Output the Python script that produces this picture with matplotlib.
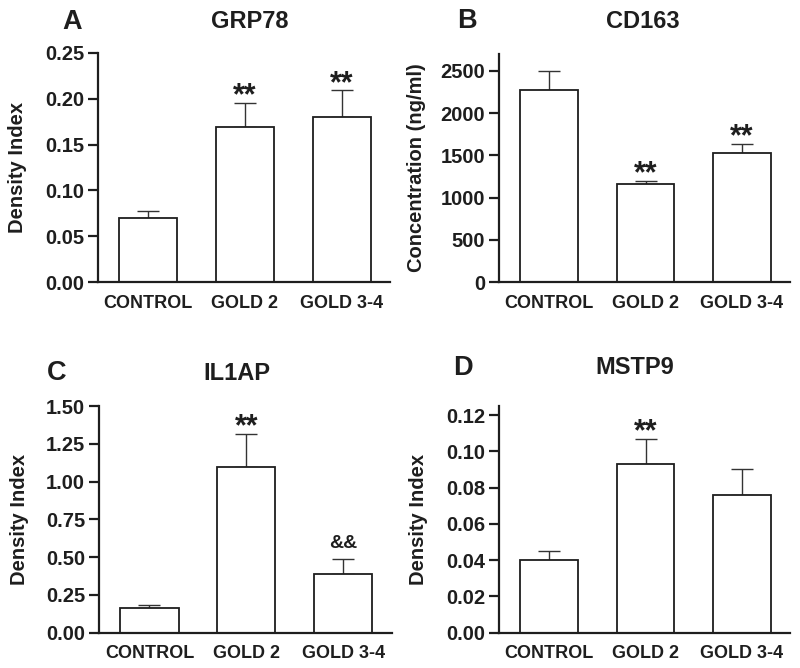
import matplotlib
matplotlib.use('Agg')
import matplotlib.pyplot as plt

plt.rcParams['font.family'] = ['Liberation Sans', 'DejaVu Sans']
plt.rcParams['font.weight'] = 'bold'

groups = ['CONTROL', 'GOLD 2', 'GOLD 3-4']

# panel A - GRP78
grp78_mean = [0.070, 0.169, 0.180]
grp78_err = [0.008, 0.026, 0.029]
grp78_marks = ['', '**', '**']

# panel B - CD163
cd163_mean = [2270, 1155, 1525]
cd163_err = [225, 40, 105]
cd163_marks = ['', '**', '**']

# panel C - IL1AP
il1ap_mean = [0.161, 1.094, 0.388]
il1ap_err = [0.022, 0.221, 0.098]
il1ap_marks = ['', '**', '&&']

# panel D - MSTP9
mstp9_mean = [0.040, 0.093, 0.076]
mstp9_err = [0.005, 0.014, 0.014]
mstp9_marks = ['', '**', '']

ink = '#1e1e1e'
W, H = 800, 668

fig = plt.figure(figsize=(8, 6.68), dpi=100)

panels = [
    # letter, title, means, errs, marks, ylabel, ylim, ticks, fmt,
    # rect, letter (x, y) px, title (x, y) px, ylabel x (axes frac)
    ('A', 'GRP78', grp78_mean, grp78_err, grp78_marks, 'Density Index',
     (0, 0.25), [0, 0.05, 0.10, 0.15, 0.20, 0.25], '{:.2f}',
     [0.1225, 0.5778, 0.365, 0.343], (72, 22), (250, 22), -0.243),
    ('B', 'CD163', cd163_mean, cd163_err, cd163_marks, 'Concentration (ng/ml)',
     (0, 2700), [0, 500, 1000, 1500, 2000, 2500], '{:.0f}',
     [0.62375, 0.5778, 0.364, 0.3414], (467, 21), (643, 21), -0.251),
    ('C', 'IL1AP', il1ap_mean, il1ap_err, il1ap_marks, 'Density Index',
     (0, 1.5), [0, 0.25, 0.50, 0.75, 1.00, 1.25, 1.50], '{:.2f}',
     [0.12375, 0.0528, 0.366, 0.3394], (57, 373), (237, 373), -0.239),
    ('D', 'MSTP9', mstp9_mean, mstp9_err, mstp9_marks, 'Density Index',
     (0, 0.125), [0, 0.02, 0.04, 0.06, 0.08, 0.10, 0.12], '{:.2f}',
     [0.62375, 0.0528, 0.364, 0.3394], (463, 368), (635, 368), -0.244),
]

x = range(len(groups))

for letter, title, means, errs, marks, ylab, ylim, ticks, fmt, rect, lpos, tpos, ylx in panels:
    ax = fig.add_axes(rect)
    ax.bar(x, means, width=0.6, color='white', edgecolor=ink, linewidth=1.3, zorder=2)
    ax.errorbar(x, means, yerr=[[0] * len(errs), errs], fmt='none', ecolor='#333333',
                elinewidth=1.0, capsize=8, capthick=1.0, zorder=1)
    for xi, m, e, s in zip(x, means, errs, marks):
        if s == '**':
            ax.annotate(s, (xi, m + e), xytext=(0, -1), textcoords='offset points',
                        ha='center', va='baseline', fontsize=22, color=ink)
        elif s:
            ax.annotate(s, (xi, m + e), xytext=(0, 8), textcoords='offset points',
                        ha='center', va='baseline', fontsize=14, color=ink)
    ax.set_xlim(-0.52, 2.5)
    ax.set_ylim(*ylim)
    ax.set_yticks(ticks)
    ax.set_yticklabels([fmt.format(t) for t in ticks])
    ax.set_xticks(list(x))
    ax.set_xticklabels(groups)
    ax.spines['top'].set_visible(False)
    ax.spines['right'].set_visible(False)
    for sp in ['left', 'bottom']:
        ax.spines[sp].set_linewidth(1.6)
        ax.spines[sp].set_color(ink)
    ax.tick_params(axis='y', direction='out', length=7, width=1.6, colors=ink,
                   labelsize=14.5, pad=3)
    ax.tick_params(axis='x', length=0, labelsize=13, colors=ink, pad=9)
    ax.set_ylabel(ylab, fontsize=14.5, fontweight='bold', color=ink)
    ax.yaxis.set_label_coords(ylx, 0.5)
    fig.text(tpos[0] / W, 1 - tpos[1] / H, title, fontsize=17, fontweight='bold',
             color=ink, ha='center', va='center')
    fig.text(lpos[0] / W, 1 - lpos[1] / H, letter, fontsize=19.5, fontweight='bold',
             color=ink, ha='center', va='center')

fig.savefig('out.png', dpi=100)
